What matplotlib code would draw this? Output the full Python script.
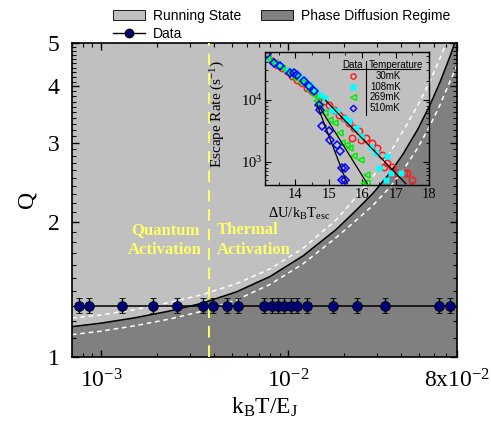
import matplotlib
matplotlib.use('Agg')
import matplotlib.pyplot as plt
import matplotlib.ticker as ticker
from matplotlib.patches import Patch
from matplotlib.lines import Line2D
import numpy as np

plt.rcParams['font.family'] = ['Liberation Serif', 'DejaVu Serif']
plt.rcParams['mathtext.fontset'] = 'custom'
plt.rcParams['mathtext.rm'] = 'Liberation Serif'
plt.rcParams['mathtext.it'] = 'Liberation Serif:italic'
plt.rcParams['mathtext.bf'] = 'Liberation Serif:bold'

# main panel: measured Q vs k_B T / E_J
data_x = [7.66e-4, 8.65e-4, 1.29e-3, 1.89e-3, 2.55e-3, 3.50e-3, 3.99e-3, 4.70e-3,
          5.38e-3, 7.47e-3, 8.18e-3, 8.87e-3, 9.48e-3, 1.03e-2, 1.12e-2, 1.26e-2,
          1.73e-2, 2.34e-2, 3.31e-2, 6.44e-2, 7.30e-2]
data_q = [1.30] * len(data_x)
data_err = [0.05] * len(data_x)

# boundary between running state and phase diffusion (black) and the two white dashed lines
bound_x = [7.0e-4, 1.0e-3, 1.5e-3, 2.3e-3, 3.5e-3, 5.3e-3, 8.0e-3, 1.2e-2, 1.8e-2,
           2.3e-2, 2.85e-2, 3.5e-2, 4.1e-2, 4.9e-2, 5.7e-2, 6.5e-2, 7.35e-2, 8.0e-2]
bound_q = [1.168, 1.189, 1.221, 1.264, 1.318, 1.396, 1.510, 1.678, 1.919,
           2.117, 2.317, 2.567, 2.823, 3.197, 3.620, 4.101, 4.679, 5.183]
upper_q = [1.221, 1.240, 1.273, 1.321, 1.377, 1.456, 1.570, 1.745, 2.015,
           2.265, 2.526, 2.849, 3.176, 3.613, 4.091, 4.634, 5.240, 5.805]
lower_q = [1.121, 1.141, 1.172, 1.213, 1.265, 1.340, 1.450, 1.611, 1.842,
           2.011, 2.178, 2.387, 2.597, 2.909, 3.258, 3.650, 4.118, 4.457]
crossover_x = 3.78e-3

# inset: escape rate vs barrier
red_x = [13.15, 13.30, 13.45, 13.60, 13.75, 13.90, 14.05, 14.20, 14.35, 14.50, 14.70,
         14.85, 15.00, 15.15, 15.30, 15.45, 15.60, 15.70, 15.75, 15.90, 15.95, 16.10,
         16.30, 16.45, 16.60, 16.65, 16.75, 16.90, 16.90, 17.05, 17.25, 17.35, 17.50]
red_y = [50350, 41780, 36900, 32580, 28770, 23880, 21090, 18620, 15450, 13650, 11320,
         9400, 8300, 6890, 5710, 5050, 4190, 2390, 3480, 3070, 2250, 2390,
         1990, 1650, 1290, 830, 940, 830, 650, 650, 650, 650, 505]
cyan_x = [13.15, 13.35, 13.55, 13.75, 13.95, 14.10, 14.25, 14.45, 14.60, 14.75, 14.90, 15.10,
          15.25, 15.50, 15.60, 15.80, 15.95, 16.25, 16.40, 16.75, 16.50, 16.70, 16.85, 17.15]
cyan_y = [47300, 39300, 34700, 30600, 27000, 23900, 21100, 17500, 14500, 12050, 10640, 6890,
          6470, 5050, 4460, 3480, 2550, 1750, 1370, 1210, 780, 505, 650, 650]
green_x = [13.20, 13.40, 13.60, 13.80, 14.00, 14.20, 14.40, 14.55, 14.65, 14.75, 14.90,
           15.05, 15.20, 15.35, 15.40, 15.55, 15.65, 15.75, 15.95, 16.15, 16.05, 16.15]
green_y = [47300, 39300, 32600, 27000, 22400, 18600, 14500, 12050, 9400, 7800, 6080,
           4740, 4190, 2880, 1990, 1870, 1650, 1210, 1070, 610, 446, 446]
blue_x = [13.15, 13.35, 13.55, 13.85, 13.95, 14.05, 14.25, 14.40, 14.55, 14.70,
          14.75, 14.80, 15.00, 15.05, 15.25, 15.35, 15.40, 15.50, 15.40, 15.50]
blue_y = [53600, 39300, 34700, 27000, 27000, 25400, 19800, 16400, 13650, 8300,
          6890, 3700, 3070, 2250, 1870, 1460, 780, 780, 505, 505]
fit_blue = ([14.65, 15.55], [8300, 440])
fit_green = ([14.75, 16.15], [7200, 440])
fit_red = ([14.9, 17.3], [9800, 440])
temps = ['30mK', '108mK', '269mK', '510mK']

light = '#c0c0c0'
dark = '#808080'
navy = '#00007a'
yellow = '#ffff66'

fig = plt.figure(figsize=(4.91, 4.29), dpi=100)
ax = fig.add_axes([0.1466, 0.168, 0.7844, 0.732])
ax.set_xscale('log')
ax.set_yscale('log')
ax.set_facecolor(light)
ax.fill_between(bound_x, 0.5, bound_q, color=dark, lw=0, zorder=1)
ax.plot(bound_x, bound_q, color='black', lw=1.1, zorder=2)
ax.plot(bound_x, upper_q, color='white', lw=1.1, ls=(0, (3, 2.5)), zorder=2)
ax.plot(bound_x, lower_q, color='white', lw=1.1, ls=(0, (3, 2.5)), zorder=2)
ax.axvline(crossover_x, color=yellow, lw=1.4, ls=(0, (6, 4)), zorder=3)
ax.errorbar(data_x, data_q, yerr=data_err, fmt='-o', color='black', ecolor='black',
            mfc=navy, mec='black', ms=7, mew=0.6, lw=1.1, elinewidth=1.0,
            capsize=2.5, capthick=1.0, zorder=5)

ax.set_xlim(7e-4, 8e-2)
ax.set_ylim(1, 5)
ax.xaxis.set_major_locator(ticker.FixedLocator([1e-3, 1e-2, 8e-2]))
ax.xaxis.set_major_formatter(ticker.FixedFormatter(['10$^{-3}$', '10$^{-2}$', '8x10$^{-2}$']))
ax.xaxis.set_minor_locator(ticker.LogLocator(base=10, subs=np.arange(2, 10), numticks=20))
ax.xaxis.set_minor_formatter(ticker.NullFormatter())
ax.yaxis.set_major_locator(ticker.FixedLocator([1, 2, 3, 4, 5]))
ax.yaxis.set_major_formatter(ticker.FixedFormatter(['1', '2', '3', '4', '5']))
ax.yaxis.set_minor_locator(ticker.FixedLocator(np.arange(1.1, 5.0, 0.1)))
ax.yaxis.set_minor_formatter(ticker.NullFormatter())
ax.tick_params(which='both', direction='in', top=True, right=True, labelsize=17)
ax.tick_params(which='major', length=5, width=1, pad=9)
ax.tick_params(which='minor', length=3, width=0.8)
for s in ax.spines.values():
    s.set_linewidth(1.2)
ax.set_xlabel(r'k$_\mathregular{B}$T/E$_\mathregular{J}$', fontsize=17, labelpad=2)
ax.set_ylabel('Q', fontsize=17, labelpad=7)

ax.text(0.338, 0.373, 'Quantum\nActivation', transform=ax.transAxes, ha='right', va='center',
        multialignment='center', color=yellow, fontsize=12, fontweight='bold',
        linespacing=1.3, zorder=6)
ax.text(0.377, 0.373, 'Thermal\nActivation', transform=ax.transAxes, ha='left', va='center',
        multialignment='left', color=yellow, fontsize=12, fontweight='bold',
        linespacing=1.3, zorder=6)

handles = [Patch(facecolor=light, edgecolor='black', lw=0.6),
           Line2D([], [], color='black', lw=1, marker='o', mfc=navy, mec='black', ms=6),
           Patch(facecolor=dark, edgecolor='black', lw=0.6)]
labels = ['Running State', 'Data', 'Phase Diffusion Regime']
fig.legend(handles, labels, ncol=2, loc='upper left', bbox_to_anchor=(0.216, 0.995),
           frameon=False, borderpad=0, handlelength=2.3, handletextpad=0.6,
           columnspacing=1.4, labelspacing=0.25, prop={'family': 'Liberation Sans', 'size': 10})

# inset
axi = fig.add_axes([0.540, 0.569, 0.334, 0.310])
axi.set_facecolor('none')
axi.set_yscale('log')
axi.plot(*fit_blue, color='black', lw=0.9, zorder=3)
axi.plot(*fit_green, color='black', lw=0.9, zorder=3)
axi.plot(*fit_red, color='black', lw=0.9, zorder=3)
axi.plot(red_x, red_y, 'o', ms=4.6, mfc='none', mec='#ff1a1a', mew=1.1, zorder=2)
axi.plot(cyan_x, cyan_y, 's', ms=4.6, mfc='#00ffff', mec='none', zorder=2)
axi.plot(green_x, green_y, '<', ms=4.6, mfc='none', mec='#00ee00', mew=1.1, zorder=2)
axi.plot(blue_x, blue_y, 'D', ms=4, mfc='none', mec='#0000ff', mew=1.1, zorder=2)
axi.set_xlim(13.1, 18)
axi.set_ylim(420, 5.9e4)
axi.xaxis.set_major_locator(ticker.MultipleLocator(1))
axi.xaxis.set_minor_locator(ticker.MultipleLocator(0.5))
axi.yaxis.set_major_locator(ticker.FixedLocator([1e3, 1e4]))
axi.yaxis.set_major_formatter(ticker.FixedFormatter(['10$^3$', '10$^4$']))
axi.yaxis.set_minor_locator(ticker.LogLocator(base=10, subs=np.arange(2, 10), numticks=20))
axi.yaxis.set_minor_formatter(ticker.NullFormatter())
axi.tick_params(which='both', direction='in', top=True, right=True, labelsize=10.5)
axi.tick_params(which='major', length=4, width=0.8, pad=2)
axi.tick_params(which='minor', length=2, width=0.6)
for s in axi.spines.values():
    s.set_linewidth(1.0)
axi.set_xlabel('ΔU/k$_\mathregular{B}$T$_\mathregular{esc}$', fontsize=10.5)
axi.xaxis.set_label_coords(0.21, -0.16)
axi.set_ylabel('Escape Rate (s$^{-1}$)', fontsize=11)
axi.yaxis.set_label_coords(-0.23, 0.535)

# table-style legend of the inset
sans = {'family': 'Liberation Sans', 'size': 7}
axi.text(0.530, 0.904, 'Data', transform=axi.transAxes, ha='center', va='center', fontdict=sans)
axi.text(0.795, 0.904, 'Temperature', transform=axi.transAxes, ha='center', va='center', fontdict=sans)
axi.plot([0.468, 0.945], [0.872, 0.872], color='black', lw=0.8, transform=axi.transAxes)
axi.plot([0.618, 0.618], [0.932, 0.527], color='black', lw=0.8, transform=axi.transAxes)
row_y = [0.816, 0.736, 0.658, 0.578]
styles = [dict(marker='o', ms=3.8, mfc='none', mec='#ff1a1a', mew=1.0),
          dict(marker='s', ms=3.8, mfc='#00ffff', mec='none'),
          dict(marker='<', ms=3.8, mfc='none', mec='#00ee00', mew=1.0),
          dict(marker='D', ms=3.3, mfc='none', mec='#0000ff', mew=1.0)]
for yy, st, t in zip(row_y, styles, temps):
    axi.plot([0.538], [yy], ls='none', transform=axi.transAxes, **st)
    axi.text(0.827, yy, t, transform=axi.transAxes, ha='right', va='center', fontdict=sans)

fig.savefig('out.png', dpi=100)
